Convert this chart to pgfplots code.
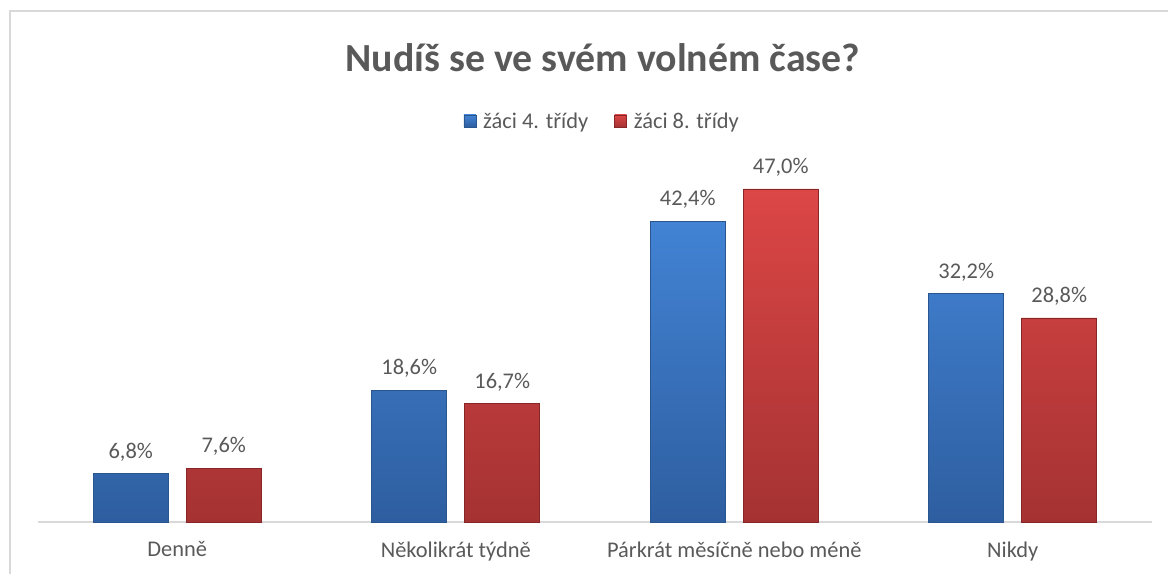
\documentclass[border=0pt]{standalone}
\usepackage{pgfplots}
\pgfplotsset{compat=1.18}
\usepackage{fontspec}
\setmainfont{Carlito}
\definecolor{txt}{HTML}{595959}
\definecolor{btop}{HTML}{4283D4}
\definecolor{bbot}{HTML}{2E5EA0}
\definecolor{bdraw}{HTML}{2A5690}
\definecolor{rtop}{HTML}{DC4646}
\definecolor{rbot}{HTML}{A53232}
\definecolor{rdraw}{HTML}{862626}
\definecolor{axl}{HTML}{D9D9D9}
\begin{document}
\begin{tikzpicture}[x=1bp,y=1bp]
\path[use as bounding box] (0,0) rectangle (1168,574);
\draw[axl, line width=1.5bp] (10,0) -- (10,563) -- (1168,563);
\node[txt, font=\fontsize{40}{48}\selectfont\bfseries] at (603,516) {Nudíš se ve svém volném čase?};
\begin{axis}[
  at={(38bp,52bp)}, anchor=south west, scale only axis,
  width=1114bp, height=353bp,
  xmin=-0.5, xmax=3.5, ymin=0, ymax=49.8,
  ybar=18bp, bar width=75bp,
  axis y line=none, axis x line*=bottom,
  x axis line style={axl, line width=1.5bp, -},
  xtick={0,1,2,3},
  xticklabels={Denně, Několikrát týdně, Párkrát měsíčně nebo méně, Nikdy},
  major tick length=0pt,
  xticklabel style={txt, font=\fontsize{22.5}{27}\selectfont, yshift=-16bp},
  /pgf/number format/assume math mode=true,
  nodes near coords={\pgfmathprintnumber[fixed,fixed zerofill,precision=1,use comma]{\pgfplotspointmeta}\%},
  nodes near coords style={txt, font=\fontsize{22.5}{27}\selectfont, yshift=9bp},
  legend style={at={(axis description cs:0.502,1)}, anchor=center, xshift=5bp, yshift=48bp, draw=none, fill=none,
    legend columns=2, font=\fontsize{22.5}{27}\selectfont, text=txt,
    /tikz/every odd column/.append style={column sep=5bp},
    /tikz/every even column/.append style={column sep=24bp}},
  legend image code/.code={\path[#1] (0bp,-6bp) rectangle (12bp,6bp);},
  clip=false,
]
\addplot[draw=bdraw, line width=0.6bp, top color=btop, bottom color=bbot] coordinates {(0,6.8) (1,18.6) (2,42.4) (3,32.2)};
\addplot[draw=rdraw, line width=0.6bp, top color=rtop, bottom color=rbot] coordinates {(0,7.6) (1,16.7) (2,47.0) (3,28.8)};
\legend{žáci 4. třídy, žáci 8. třídy}
\end{axis}
\end{tikzpicture}
\end{document}
